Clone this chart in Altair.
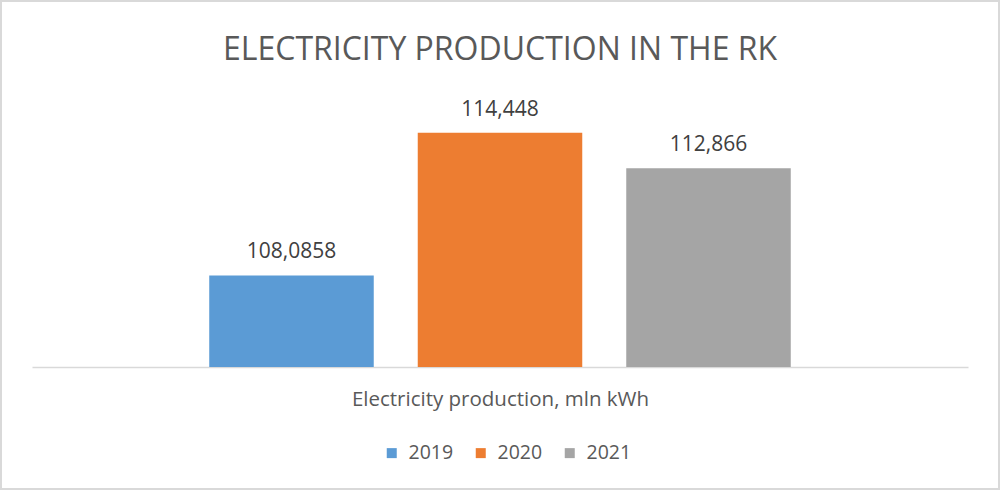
import altair as alt
import pandas as pd

years = ["2019", "2020", "2021"]
values = [108.0858, 114.448, 112.866]
labels = ["108,0858", "114,448", "112,866"]
colors = ["#5B9BD5", "#ED7D31", "#A5A5A5"]

df = pd.DataFrame({"year": years, "value": values, "label": labels})

FONT = "Open Sans"

x_enc = alt.X(
    "year:N",
    sort=years,
    scale=alt.Scale(paddingInner=0.211, paddingOuter=0.85),
    axis=alt.Axis(
        title="Electricity production, mln kWh",
        labels=False,
        ticks=False,
        domainColor="#d9d9d9",
        domainWidth=1.5,
        titleFont=FONT,
        titleFontSize=20.5,
        titleFontWeight="normal",
        titleColor="#595959",
        titlePadding=22,
    ),
)
y_scale = alt.Scale(domain=[104, 116], zero=False, nice=False)

base = alt.Chart(df)

bars = base.mark_bar().encode(
    x=x_enc,
    y=alt.Y("value:Q", scale=y_scale, axis=None),
    y2=alt.datum(104),
    color=alt.Color(
        "year:N",
        sort=years,
        scale=alt.Scale(domain=years, range=colors),
        legend=alt.Legend(
            title=None,
            orient="none",
            direction="horizontal",
            legendX=350,
            legendY=345,
            symbolType="square",
            symbolSize=100,
            symbolStrokeWidth=0,
            labelFont=FONT,
            labelFontSize=19.5,
            labelColor="#595959",
            labelOffset=7,
            columnPadding=17,
            padding=0,
        ),
    ),
)

text = base.mark_text(
    font=FONT, fontSize=21, color="#404040", dy=-17, baseline="alphabetic"
).encode(
    x=alt.X("year:N", sort=years),
    y=alt.Y("value:Q", scale=y_scale),
    text="label:N",
)

border = alt.Chart(pd.DataFrame({"a": [0]})).mark_rect(
    fill=None, stroke="#d9d9d9", strokeWidth=2
).encode(
    x=alt.value(-31), x2=alt.value(967), y=alt.value(-97), y2=alt.value(391)
)

chart = alt.layer(border, bars, text).properties(
    width=936,
    height=269,
    padding={"left": 32, "top": 98, "right": 32, "bottom": 123},
    autosize=alt.AutoSizeParams(type="none"),
    title=alt.Title(
        "ELECTRICITY PRODUCTION IN THE RK",
        font=FONT,
        fontSize=32,
        fontWeight="normal",
        color="#595959",
        anchor="middle",
        frame="group",
        baseline="alphabetic",
        offset=-92,
    ),
).configure(
    background="white",
    view=alt.ViewConfig(stroke=None),
)

chart.save("out.html", embed_options={"renderer": "svg", "actions": False})
